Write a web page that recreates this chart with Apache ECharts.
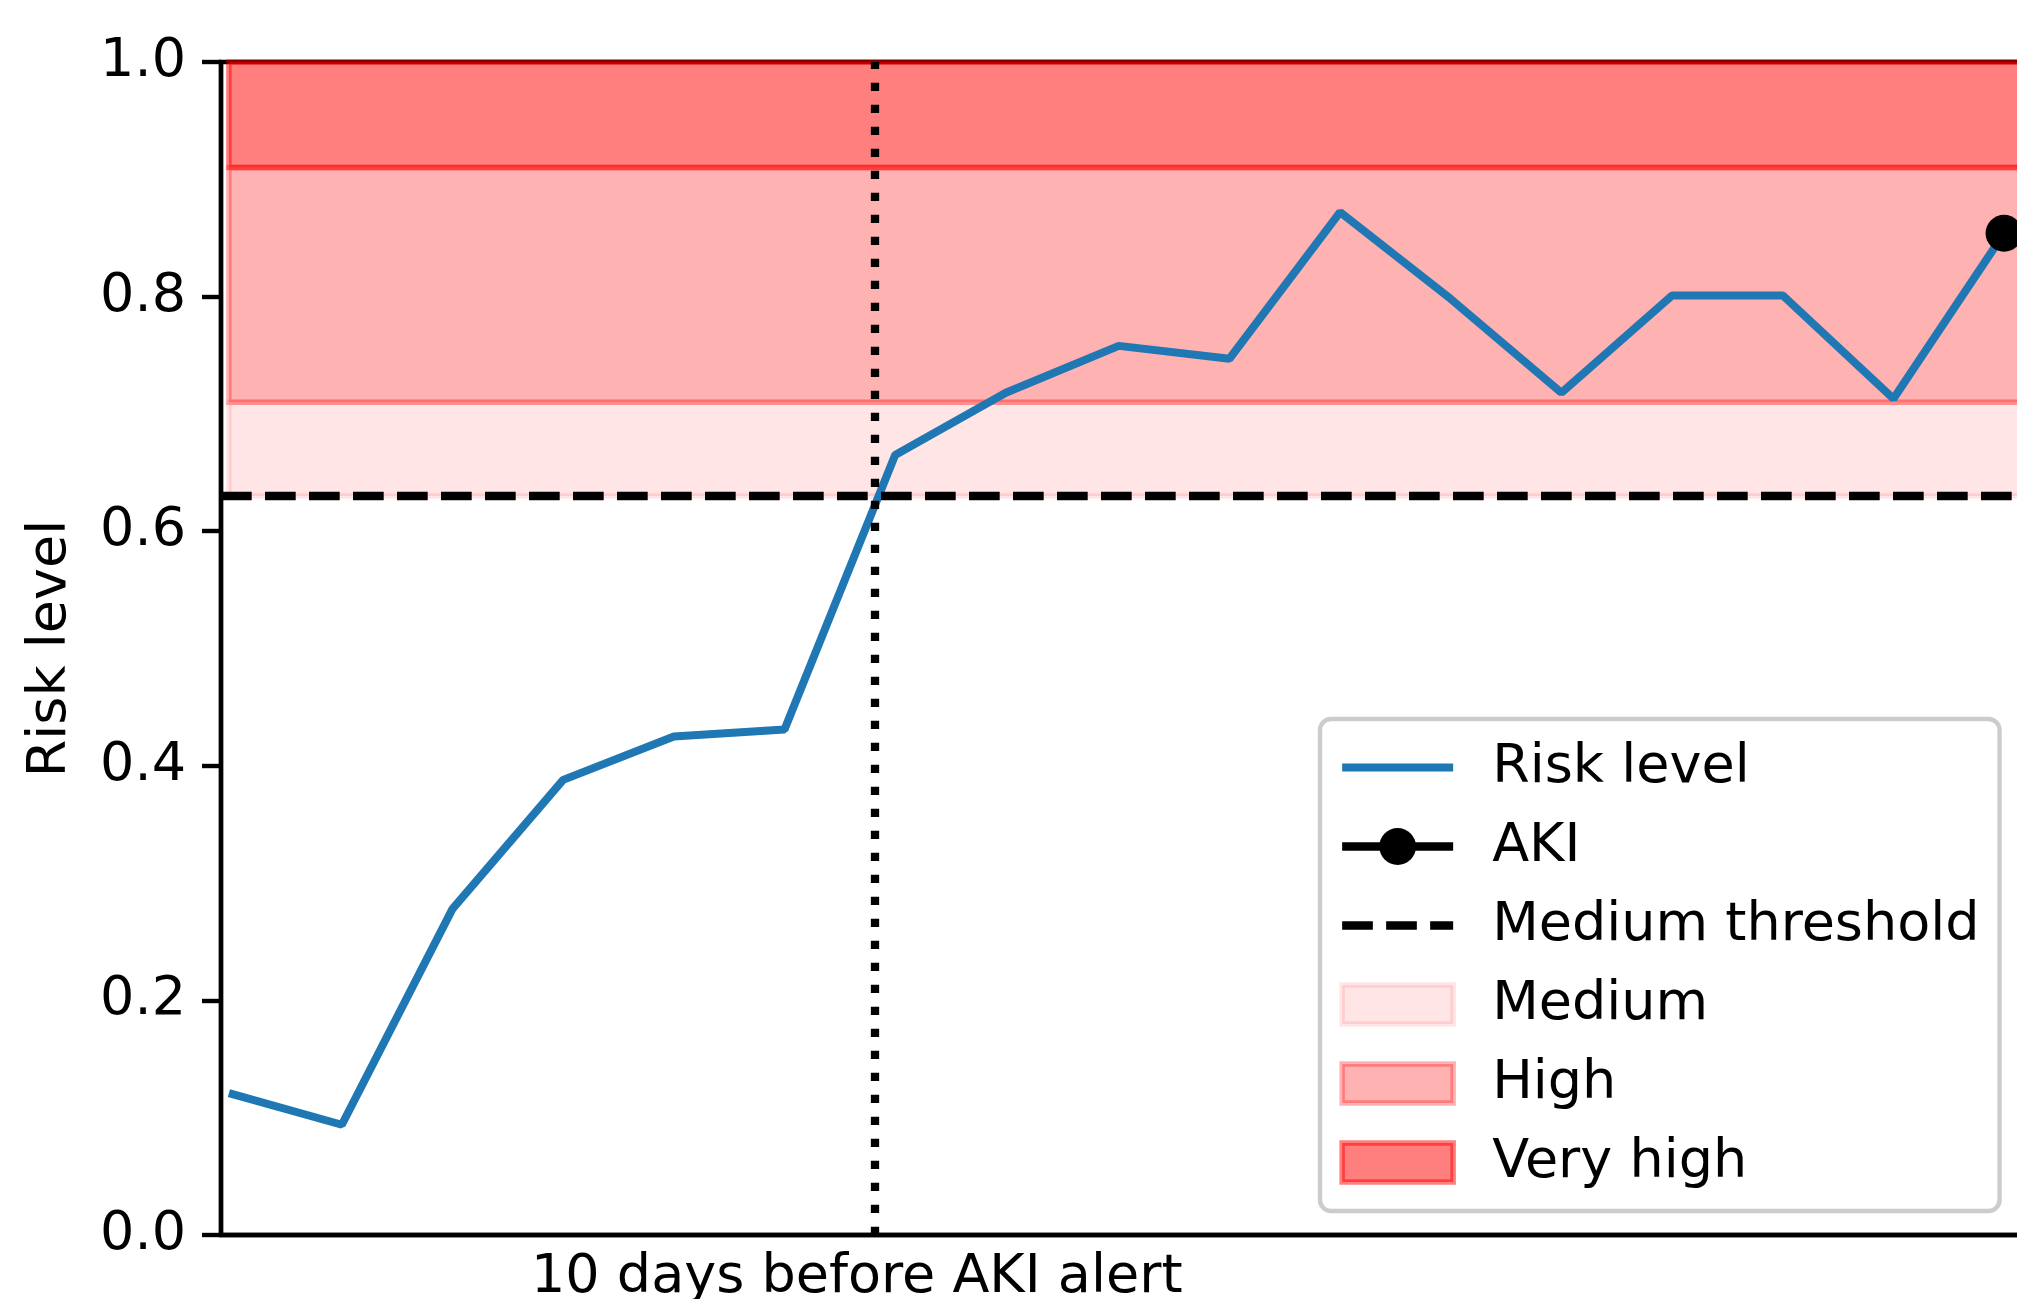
<!DOCTYPE html>
<html><head><meta charset="utf-8">
<script src="https://cdn.jsdelivr.net/npm/echarts@6/dist/echarts.min.js"></script>
<style>html,body{margin:0;padding:0;background:#fff;overflow:hidden;width:2017px;height:1299px}#c{width:2140px;height:1299px}</style>
</head><body><div id="c"></div>
<script>
// ---- data (x in days relative to the AKI alert) ----
const days = [-15.72, -14.72, -13.74, -12.76, -11.78, -10.80, -9.82, -8.84, -7.84, -6.86, -5.88, -4.90, -3.92, -2.94, -1.96, -0.98, 0];
const risk = [0.121, 0.094, 0.278, 0.388, 0.425, 0.431, 0.665, 0.718, 0.758, 0.747, 0.872, 0.798, 0.718, 0.801, 0.801, 0.713, 0.854];
const akiDays = [0];
const akiRisk = [0.854];
const mediumThreshold = 0.63;
const highThreshold = 0.71;
const veryHighThreshold = 0.91;
const riskMax = 1.0;
const alertDay = -10;
const xTickValues = [-10.16];
const xTickLabels = ['10 days before AKI alert'];
const xMin = -15.79, xMax = 1.0;
const yMin = 0, yMax = 1, yStep = 0.2;
const names = ['Risk level', 'AKI', 'Medium threshold', 'Medium', 'High', 'Very high'];

const FONT = 'DejaVu Sans';
const FS = 54;
const spanStart = days[0];
const rectIcon = 'path://M0,0L111,0L111,39L0,39Z';

const chart = echarts.init(document.getElementById('c'), null, {renderer: 'canvas'});

function span(name, lo, hi, alpha) {
  return {
    name: name, type: 'line', data: [], z: 1,
    itemStyle: {color: 'rgba(255,0,0,' + alpha + ')'},
    lineStyle: {width: 0},
    markArea: {
      silent: true,
      itemStyle: {color: 'rgba(255,0,0,' + alpha + ')', borderColor: 'rgba(255,0,0,' + alpha + ')', borderWidth: 5.5},
      data: [[{xAxis: spanStart, yAxis: lo}, {xAxis: xMax, yAxis: hi}]]
    }
  };
}

const option = {
  animation: false,
  backgroundColor: '#fff',
  textStyle: {fontFamily: FONT},
  grid: {left: 221, right: 23, top: 62, bottom: 64, show: true, borderColor: '#000', borderWidth: 4.4,
         backgroundColor: 'transparent', containLabel: false, outerBoundsMode: 'none'},
  xAxis: {
    type: 'value', min: xMin, max: xMax,
    axisLine: {show: true, onZero: false, lineStyle: {color: '#000', width: 4.4}},
    axisTick: {show: false},
    splitLine: {show: false},
    axisLabel: {
      show: true, customValues: xTickValues, margin: 16,
      fontFamily: FONT, fontSize: FS, color: '#000',
      formatter: function (v) {
        for (let i = 0; i < xTickValues.length; i++) if (Math.abs(v - xTickValues[i]) < 1e-6) return xTickLabels[i];
        return '';
      }
    }
  },
  yAxis: {
    type: 'value', min: yMin, max: yMax, interval: yStep,
    name: 'Risk level', nameLocation: 'middle', nameGap: 143,
    nameTextStyle: {fontFamily: FONT, fontSize: FS, color: '#000'},
    axisLine: {show: true, onZero: false, lineStyle: {color: '#000', width: 4.4}},
    axisTick: {show: true, inside: false, length: 19, lineStyle: {color: '#000', width: 4.4}},
    splitLine: {show: false},
    axisLabel: {margin: 35, fontFamily: FONT, fontSize: FS, color: '#000', formatter: v => v.toFixed(1)}
  },
  legend: {
    orient: 'vertical', left: 1320, top: 719,
    padding: [21, 20, 21, 18], itemGap: 24, itemWidth: 111, itemHeight: 46,
    backgroundColor: 'rgba(255,255,255,0.8)', borderColor: '#cccccc', borderWidth: 4.4, borderRadius: 11,
    textStyle: {fontFamily: FONT, fontSize: FS, color: '#000', lineHeight: 55, padding: [0, 0, 0, 34]},
    lineStyle: {width: 'inherit'},
    selectedMode: false,
    data: [
      {name: names[0], itemStyle: {opacity: 0}},
      {name: names[1]},
      {name: names[2], itemStyle: {opacity: 0}},
      {name: names[3], icon: rectIcon, itemStyle: {color: 'rgba(255,0,0,0.1)', borderColor: 'rgba(255,0,0,0.1)', borderWidth: 5.5}},
      {name: names[4], icon: rectIcon, itemStyle: {color: 'rgba(255,0,0,0.3)', borderColor: 'rgba(255,0,0,0.3)', borderWidth: 5.5}},
      {name: names[5], icon: rectIcon, itemStyle: {color: 'rgba(255,0,0,0.5)', borderColor: 'rgba(255,0,0,0.5)', borderWidth: 5.5}}
    ]
  },
  series: [
    span(names[3], mediumThreshold, highThreshold, 0.1),
    span(names[4], highThreshold, veryHighThreshold, 0.3),
    span(names[5], veryHighThreshold, riskMax, 0.5),
    {
      name: names[2], type: 'line', data: [], z: 3, symbol: 'none',
      itemStyle: {color: '#000'},
      lineStyle: {color: '#000', width: 8.3, type: [30.7, 13.3]},
      markLine: {
        silent: true, symbol: 'none', label: {show: false},
        lineStyle: {color: '#000', width: 8.3, type: [30.7, 13.3]},
        data: [{yAxis: mediumThreshold}]
      }
    },
    {
      name: names[0], type: 'line', z: 4, symbol: 'none',
      data: days.map((d, i) => [d, risk[i]]),
      itemStyle: {color: '#1f77b4'},
      lineStyle: {color: '#1f77b4', width: 8}
    },
    {
      name: names[1], type: 'line', z: 5, symbol: 'circle', symbolSize: 37, showSymbol: true,
      data: akiDays.map((d, i) => [d, akiRisk[i]]),
      itemStyle: {color: '#000'},
      lineStyle: {color: '#000', width: 8.3}
    },
    {
      name: 'alert', type: 'line', data: [], z: 6,
      markLine: {
        silent: true, symbol: 'none', label: {show: false},
        lineStyle: {color: '#000', width: 8.3, type: [8.3, 13.7]},
        data: [{xAxis: alertDay}]
      }
    }
  ]
};
chart.setOption(option);
</script>
</body></html>
